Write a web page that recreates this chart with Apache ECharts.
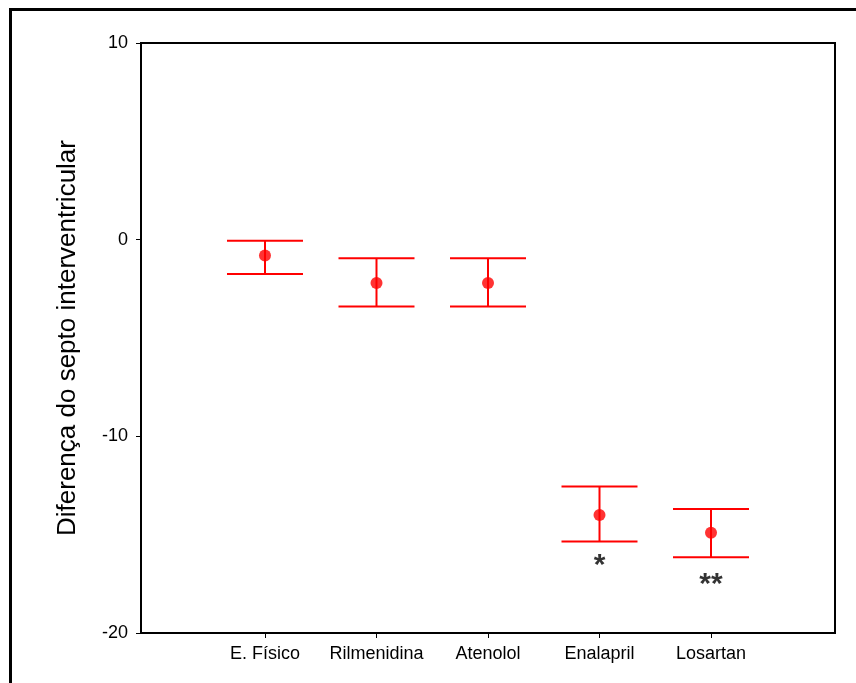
<!DOCTYPE html>
<html>
<head>
<meta charset="utf-8">
<script src="https://cdn.jsdelivr.net/npm/echarts@6/dist/echarts.min.js"></script>
<style>
  html, body { margin: 0; padding: 0; background: #fff; }
  #chart { width: 856px; height: 683px; }
</style>
</head>
<body>
<div id="chart"></div>
<script>
// --- Data ---
const groups = ['E. Físico', 'Rilmenidina', 'Atenolol', 'Enalapril', 'Losartan'];
const means = [-0.8, -2.2, -2.2, -14.0, -14.9];
const upper = [-0.05, -0.95, -0.95, -12.55, -13.7];
const lower = [-1.75, -3.4, -3.4, -15.35, -16.15];
const yTicks = [-20, -10, 0, 10];

// significance marks under the bars
const marks = ['', '', '', '*', '**'];
const markY = [null, null, null, -16.6, -17.55];

const positions = groups.map((_, i) => i + 1);

const chart = echarts.init(document.getElementById('chart'), null, { renderer: 'canvas' });

const font = 'Liberation Sans, Arial, sans-serif';

chart.setOption({
  backgroundColor: '#fff',
  animation: false,
  graphic: [{
    type: 'rect',
    shape: { x: 10.5, y: 9.5, width: 900, height: 720 },
    style: { fill: 'none', stroke: '#000', lineWidth: 3 },
    silent: true
  }],
  grid: {
    left: 141, top: 43, right: 21, bottom: 50,
    show: true, borderColor: '#000', borderWidth: 2, backgroundColor: 'transparent'
  },
  xAxis: {
    type: 'value',
    min: -0.112,
    max: 6.112,
    splitLine: { show: false },
    axisLine: { onZero: false, lineStyle: { color: '#000', width: 2 } },
    axisTick: { show: true, customValues: positions, length: 5, lineStyle: { color: '#000', width: 1 } },
    axisLabel: {
      customValues: positions,
      formatter: v => groups[Math.round(v) - 1] || '',
      color: '#000', fontSize: 18, fontFamily: font, margin: 12
    }
  },
  yAxis: {
    type: 'value',
    min: yTicks[0],
    max: yTicks[yTicks.length - 1],
    interval: 10,
    name: 'Diferença do septo interventricular',
    nameLocation: 'middle',
    nameGap: 60,
    nameTextStyle: { color: '#000', fontSize: 26, fontFamily: font },
    splitLine: { show: false },
    axisLine: { onZero: false, lineStyle: { color: '#000', width: 2 } },
    axisTick: { show: true, length: 5, lineStyle: { color: '#000', width: 1 } },
    axisLabel: { color: '#000', fontSize: 18, fontFamily: font, margin: 13 }
  },
  series: [
    {
      type: 'custom',
      data: positions.map((p, i) => [p, lower[i], upper[i]]),
      renderItem: (params, api) => {
        const x = api.value(0);
        const lo = api.coord([x, api.value(1)]);
        const hi = api.coord([x, api.value(2)]);
        const half = 38;
        const style = { stroke: '#ff0000', lineWidth: 2 };
        return {
          type: 'group',
          children: [
            { type: 'line', shape: { x1: hi[0], y1: hi[1], x2: lo[0], y2: lo[1] }, style },
            { type: 'line', shape: { x1: hi[0] - half, y1: hi[1], x2: hi[0] + half, y2: hi[1] }, style },
            { type: 'line', shape: { x1: lo[0] - half, y1: lo[1], x2: lo[0] + half, y2: lo[1] }, style }
          ]
        };
      },
      z: 2
    },
    {
      type: 'scatter',
      data: positions.map((p, i) => [p, means[i]]),
      symbol: 'circle',
      symbolSize: 12,
      itemStyle: { color: '#ff0000' },
      z: 3
    },
    {
      type: 'scatter',
      data: positions.map((p, i) => [p, markY[i]]).filter((d, i) => marks[i]),
      symbolSize: 0,
      label: {
        show: true,
        position: 'inside',
        formatter: p => marks[p.data[0] - 1],
        color: '#000',
        fontSize: 30,
        fontWeight: 'bold',
        fontFamily: font
      },
      z: 4
    }
  ]
});

window.addEventListener('resize', () => chart.resize());
</script>
</body>
</html>
